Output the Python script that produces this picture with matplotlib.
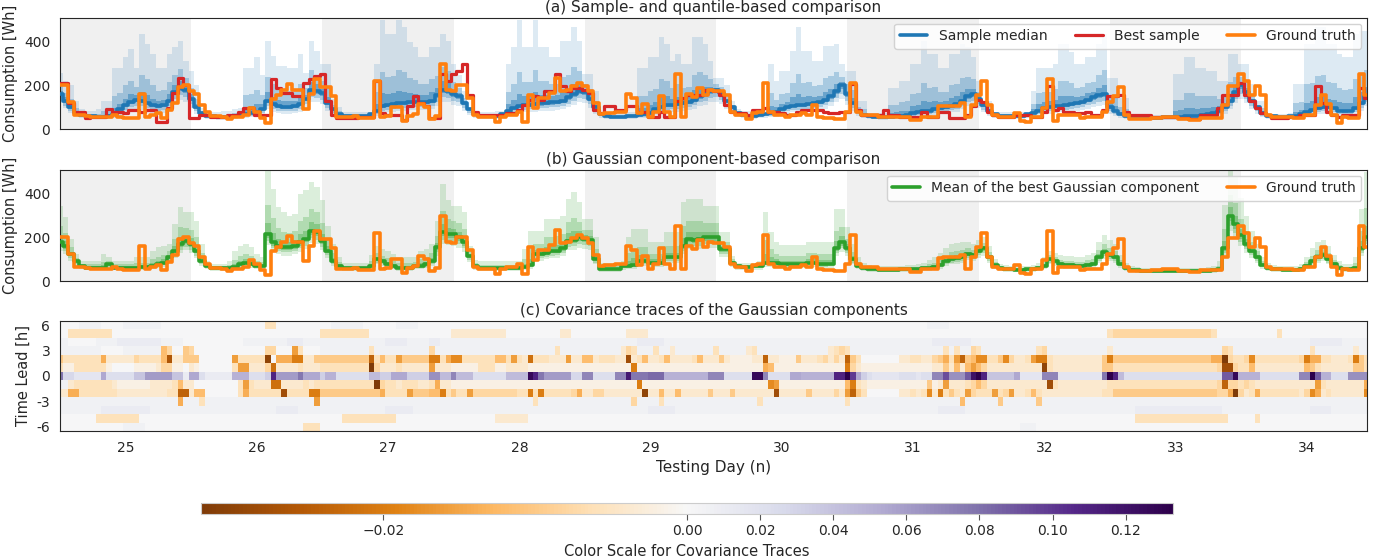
import numpy as np
import matplotlib
matplotlib.use("Agg")
import matplotlib.pyplot as plt
from matplotlib.colors import TwoSlopeNorm
import seaborn as sns

sns.set_style("white")
plt.rcParams["font.family"] = ["DejaVu Sans"]

# ---------------- data (hourly, 240 hours from day 24.5) ----------------
truth = [
    200,200,122,65,65,60,57,57,54,54,65,57,50,50,50,160,57,65,73,50,88,120,192,200,
    174,163,112,80,60,60,54,46,57,57,65,96,80,50,26,138,158,181,209,181,181,91,161,232,
    194,194,150,54,54,54,60,50,50,50,220,57,60,100,100,35,60,70,115,100,45,60,300,180,
    174,200,200,143,65,57,57,57,34,57,65,65,80,34,158,96,143,143,166,235,174,181,197,212,
    197,174,119,70,72,75,78,80,161,143,73,115,57,80,153,80,57,251,57,161,146,189,158,181,
    174,174,158,80,65,65,46,73,80,212,80,65,65,57,65,65,73,65,111,57,50,50,46,46,
    80,212,80,65,65,65,57,57,57,57,53,53,42,42,57,57,57,104,108,108,108,119,57,111,
    158,220,111,65,57,57,57,73,37,31,57,57,96,231,37,65,65,65,65,50,57,57,57,80,
    124,150,192,65,46,46,46,46,50,50,53,53,53,46,46,42,42,50,50,50,50,111,197,197,
    254,220,158,197,158,65,53,53,53,57,50,50,65,65,111,158,115,65,26,57,50,50,251,158]

best_sample = [
    212,212,119,80,80,50,57,57,57,91,80,80,73,88,88,80,88,88,34,34,96,166,236,200,
    50,50,65,65,57,57,57,65,65,80,96,96,65,65,65,228,189,166,166,150,150,212,228,243,
    251,127,65,50,50,50,50,57,57,57,220,73,65,65,65,42,104,150,119,104,50,50,251,220,
    251,266,300,158,80,65,65,65,65,65,73,73,88,111,135,150,135,174,174,251,197,174,189,189,
    181,166,88,73,104,104,88,88,104,104,80,80,57,57,80,57,57,127,143,158,158,158,181,181,
    174,158,111,80,73,73,65,88,88,96,80,80,73,65,65,80,88,88,88,88,80,73,73,80,
    80,205,88,65,65,65,65,88,65,65,57,57,57,57,80,57,57,80,80,50,50,50,65,104,
    135,124,80,65,57,57,57,65,65,65,57,57,80,197,88,96,80,80,73,73,80,65,65,88,
    150,150,158,80,65,65,65,65,57,57,57,57,57,50,50,46,46,65,65,65,96,158,158,158,
    212,158,127,96,73,65,50,50,50,57,57,65,65,65,197,119,80,65,57,65,65,65,189,143]

sample_median = [
    160,130,100,75,65,60,58,57,57,60,70,90,110,125,135,130,120,110,105,110,130,170,190,180,
    140,100,75,62,58,55,55,57,60,65,70,75,80,90,130,115,105,100,100,105,115,140,180,175,
    165,120,90,70,62,60,60,60,62,70,85,105,110,115,118,120,125,125,125,125,130,155,180,175,
    160,150,120,90,70,62,60,60,62,70,85,95,105,110,112,115,118,120,122,125,130,145,160,175,
    170,140,100,70,58,57,57,57,60,62,65,68,75,90,100,110,112,115,120,125,135,150,160,175,
    180,165,130,100,75,65,62,62,65,70,75,80,90,100,108,110,112,115,118,125,135,150,175,200,
    160,120,85,65,58,57,56,56,57,58,60,65,72,78,82,85,90,95,100,108,115,130,150,160,
    140,110,85,68,62,60,60,60,62,68,75,85,95,100,105,108,110,115,120,125,135,145,155,160,
    100,85,70,60,55,53,52,52,52,52,53,53,55,57,58,60,62,65,70,75,85,100,130,170,
    200,170,130,100,75,62,58,57,57,58,62,70,80,88,95,100,100,95,85,82,85,95,120,150]

# sample quantile bands (outer -> inner)
q_hi3 = [
    259,220,200,127,90,85,85,90,127,127,282,282,329,367,282,437,390,344,282,282,344,375,406,313,
    267,200,95,85,80,80,85,85,90,95,282,282,329,250,406,336,290,290,282,282,344,259,406,360,
    298,298,140,100,80,80,80,80,80,80,300,500,437,437,500,468,400,375,329,329,375,375,437,406,
    300,250,174,100,85,80,80,80,82,85,300,375,500,375,375,500,375,375,329,329,406,406,468,406,
    251,251,174,80,80,80,80,80,80,80,282,282,329,329,422,390,313,344,298,298,422,422,390,313,
    236,236,200,130,90,85,85,85,85,90,298,220,267,267,360,468,360,360,313,313,383,383,390,298,
    267,267,127,127,73,73,73,73,189,189,220,220,298,298,406,344,344,282,282,344,344,390,375,329,
    220,127,127,80,80,80,80,80,80,80,174,282,282,282,298,390,390,352,298,298,329,329,390,437,
    236,236,143,143,65,65,65,65,65,65,65,65,251,251,329,329,282,282,267,267,220,220,344,344,
    300,300,205,127,127,75,70,70,70,75,205,205,390,390,468,468,390,390,344,329,329,437,452,452]
q_hi2 = [
    200,165,140,95,75,70,68,70,85,87,150,165,200,220,195,250,230,200,175,180,215,250,275,235,
    190,140,83,71,66,64,66,68,72,77,155,160,180,155,240,205,180,175,173,175,205,188,270,250,
    220,190,110,82,70,68,68,68,70,75,170,260,240,245,270,260,235,225,205,205,228,245,285,268,
    215,190,142,94,76,69,68,68,70,76,170,205,260,215,217,270,220,222,205,207,240,250,283,268,
    205,185,130,74,67,66,66,66,68,70,150,152,175,185,230,220,190,205,190,195,250,260,250,230,
    205,195,160,112,81,73,71,71,73,78,165,135,160,167,210,255,212,215,197,200,235,243,260,240,
    205,180,102,90,64,63,62,62,110,110,125,127,162,165,210,190,192,170,172,202,207,235,240,228,
    172,117,102,73,69,68,68,68,69,73,115,165,170,172,182,220,222,210,190,195,212,218,250,270,
    155,145,100,93,59,58,57,57,57,57,58,58,135,135,165,167,150,152,150,152,140,148,215,240,
    240,222,160,110,95,67,63,62,62,65,120,125,205,210,245,247,215,212,190,180,182,232,252,270]
q_hi1 = [
    175,145,115,82,70,64,62,62,66,70,95,115,140,160,155,170,155,140,130,135,160,200,220,200,
    160,115,78,65,61,58,59,61,64,70,100,105,115,115,170,148,133,128,127,130,150,158,215,205,
    185,145,97,75,65,63,63,63,65,72,115,165,160,165,175,172,165,162,155,155,168,190,220,210,
    180,165,128,92,72,65,63,63,65,72,115,135,160,150,152,170,155,158,153,155,170,185,205,210,
    182,157,112,72,61,60,60,60,63,65,95,98,110,125,145,150,140,148,145,150,180,190,195,195,
    190,176,140,104,77,68,65,65,68,73,105,100,115,125,145,160,148,150,145,152,170,185,205,215,
    175,142,92,74,60,59,58,58,75,76,82,85,105,110,130,125,128,122,127,143,150,170,185,185,
    152,113,92,70,65,63,63,63,65,70,90,115,122,127,135,150,152,150,147,150,165,172,190,200,
    120,108,80,72,57,55,54,54,54,54,55,55,85,87,95,97,92,95,97,102,105,118,160,195,
    215,190,140,104,83,64,60,59,59,61,80,88,120,128,145,150,140,135,122,118,120,145,170,195]
q_lo1 = [
    150,120,92,70,61,56,54,53,53,55,64,82,100,113,122,118,109,100,95,100,118,155,173,164,
    127,91,69,57,54,51,51,53,55,60,64,69,73,82,118,105,96,91,91,96,105,127,164,160,
    150,109,82,64,57,55,55,55,57,64,78,96,100,105,108,110,114,114,114,114,118,141,164,160,
    146,137,109,82,64,57,55,55,57,64,78,87,96,100,102,105,108,110,111,114,118,132,146,160,
    155,127,91,64,53,53,53,53,55,57,60,62,69,82,91,100,102,105,110,114,123,137,146,160,
    164,150,118,91,69,60,57,57,60,64,69,73,82,91,99,100,102,105,108,114,123,137,160,182,
    146,109,78,60,53,53,52,52,53,54,55,60,66,72,75,78,82,87,91,99,105,118,137,146,
    127,100,78,62,57,55,55,55,57,62,69,78,87,91,96,99,100,105,110,114,123,132,141,146,
    91,78,64,55,51,49,48,48,48,48,49,49,51,53,54,55,57,60,64,69,78,91,118,155,
    182,155,118,91,69,57,54,53,53,54,57,64,73,80,87,91,91,87,78,75,78,87,110,137]
q_lo2 = [
    135,108,82,64,56,52,50,49,49,50,58,72,88,100,108,104,96,88,84,88,104,138,155,146,
    113,81,63,53,50,47,47,49,51,55,58,62,66,74,105,93,85,81,81,85,93,113,146,142,
    134,97,73,58,52,51,51,51,52,58,70,85,89,93,96,97,101,101,101,101,105,126,146,142,
    130,122,97,73,58,52,51,51,52,58,70,78,85,89,91,93,96,97,99,101,105,117,130,142,
    138,113,81,58,49,49,49,49,51,52,55,57,62,74,81,89,91,93,97,101,109,122,130,142,
    146,134,105,81,62,55,52,52,55,58,62,66,74,81,88,89,91,93,96,101,109,122,142,162,
    130,97,70,55,49,49,48,48,49,50,51,55,60,65,68,70,74,78,81,88,93,105,122,130,
    113,89,70,57,52,51,51,51,52,57,62,70,78,81,85,88,89,93,97,101,109,117,126,130,
    81,70,58,51,47,45,44,44,44,44,45,45,47,49,50,51,52,55,58,62,70,81,105,138,
    162,138,105,81,62,52,50,49,49,50,52,58,66,72,78,81,81,78,70,68,70,78,97,122]
q_lo3 = [
    120,95,72,58,51,47,45,44,44,45,50,62,75,85,92,88,82,75,72,75,88,118,132,125,
    97,70,56,48,45,43,43,44,46,50,50,54,57,64,90,80,73,70,70,73,80,97,125,122,
    115,84,63,51,47,46,46,46,47,51,60,73,77,80,82,84,87,87,87,87,90,108,125,122,
    112,105,84,63,51,47,46,46,47,51,60,67,73,77,78,80,82,84,85,87,90,100,112,122,
    118,97,70,51,44,44,44,44,46,47,49,50,54,64,70,77,78,80,84,87,94,105,112,122,
    125,115,90,70,54,49,47,47,49,51,54,57,64,70,76,77,78,80,82,87,94,105,122,140,
    112,84,60,49,44,44,43,43,44,45,46,49,52,56,59,60,64,67,70,76,80,90,105,112,
    97,77,60,50,47,46,46,46,47,50,54,60,67,70,73,76,77,80,84,87,94,100,108,112,
    70,60,51,46,43,41,40,40,40,40,41,41,43,44,45,46,47,49,51,54,60,70,90,118,
    140,118,90,70,54,47,45,44,44,45,47,51,57,62,67,70,70,67,60,59,60,67,84,105]

# Gaussian component: mean of the best component and its bands
gauss_mean = [
    180,160,123,92,69,62,62,62,62,77,62,62,62,62,62,65,65,68,77,85,108,139,170,185,
    170,139,92,69,62,58,58,58,65,77,85,80,69,69,216,177,162,154,154,162,177,192,231,223,
    185,139,92,69,58,58,58,58,58,69,100,92,77,69,62,58,62,69,69,77,92,154,223,216,
    215,200,177,115,69,60,60,60,60,60,60,60,60,65,75,123,123,130,138,140,150,185,190,200,
    195,190,100,55,54,54,57,69,70,75,92,92,85,85,85,108,108,108,162,192,190,192,200,200,
    200,146,146,85,69,65,65,69,69,85,85,85,77,77,77,77,77,85,85,77,77,80,150,177,
    150,100,70,58,55,53,52,52,52,52,53,53,55,55,58,60,65,75,90,100,105,110,125,120,
    140,150,110,75,60,55,53,52,52,53,55,60,70,100,90,80,75,75,70,70,75,80,110,135,
    120,110,80,60,52,50,48,48,47,47,47,47,47,47,47,47,48,48,48,50,55,150,300,260,
    210,170,140,110,75,60,55,53,52,52,52,55,70,90,110,120,100,80,60,55,55,60,150,200]
g_hi3 = [
    346,292,192,123,92,92,92,92,123,110,92,92,92,92,108,108,108,139,154,162,170,262,339,315,
    315,277,170,92,77,77,77,92,139,162,170,154,123,108,508,423,339,316,300,308,400,416,454,431,
    370,254,170,108,85,85,85,85,85,120,162,146,139,123,108,108,108,108,139,146,170,277,446,370,
    346,346,315,162,95,90,90,90,90,90,90,90,90,146,231,231,231,285,285,285,300,377,408,362,
    285,285,200,85,85,85,85,90,200,238,238,238,177,177,177,223,223,223,362,377,377,377,346,346,
    346,223,223,115,85,85,85,85,90,315,223,177,165,165,165,165,165,177,177,177,177,177,330,330,
    250,170,110,85,75,70,68,68,68,68,70,72,75,78,85,95,110,130,150,170,175,180,180,170,
    190,200,160,100,80,72,70,68,68,70,75,85,110,140,130,120,115,115,110,110,120,130,180,210,
    190,170,120,85,70,65,62,62,60,60,60,60,60,60,60,62,62,62,65,70,90,350,510,480,
    380,300,230,170,110,85,72,70,68,68,70,80,110,150,180,190,160,120,90,80,80,110,330,500]
g_hi2 = [
    255,220,154,106,79,76,76,76,89,92,76,76,76,76,83,84,84,100,112,120,136,194,246,244,
    235,200,127,79,69,67,67,73,98,115,123,113,93,87,347,288,242,227,220,228,277,293,331,317,
    268,190,127,87,70,70,70,70,70,92,128,116,105,93,83,81,83,87,101,108,127,209,323,285,
    274,266,239,136,81,74,74,74,74,74,74,74,74,101,145,172,172,200,204,205,218,271,288,273,
    236,233,145,69,68,68,70,78,129,148,158,158,126,126,126,160,160,160,252,275,274,275,266,266,
    266,181,181,99,76,74,74,76,78,189,148,126,117,117,117,117,117,130,130,122,122,124,231,246,
    195,132,88,70,64,61,59,59,59,59,61,62,64,65,70,76,85,100,117,132,137,142,150,143,
    163,173,133,86,69,63,61,59,59,61,64,71,88,118,108,98,93,93,88,88,95,103,142,169,
    152,137,98,71,60,57,54,54,53,53,53,53,53,53,53,54,54,54,56,59,71,240,395,359,
    287,229,181,137,91,71,63,61,59,59,60,66,88,117,142,152,127,98,74,66,66,83,231,335]
g_hi1 = [
    210,184,135,98,73,67,67,67,73,83,67,67,67,67,70,73,73,81,91,99,119,161,200,208,
    196,164,106,73,65,61,61,64,78,92,100,93,79,76,268,221,194,183,180,188,217,232,271,260,
    218,160,106,76,63,63,63,63,63,78,111,102,88,79,70,67,70,76,82,89,106,176,263,244,
    239,226,202,123,74,65,65,65,65,65,65,65,65,80,103,142,142,158,164,166,177,220,229,229,
    211,207,118,60,60,60,62,73,93,104,118,118,102,102,102,129,129,129,198,225,224,225,226,226,
    226,160,160,90,72,69,69,72,73,126,110,102,93,93,93,93,93,102,102,95,95,97,182,205,
    168,113,77,63,59,56,55,55,55,55,56,56,59,59,63,66,73,85,101,113,118,123,135,129,
    149,159,119,80,64,58,56,55,55,56,59,65,77,107,97,87,82,82,77,77,83,89,123,149,
    133,121,87,65,55,53,51,51,49,49,49,49,49,49,49,50,51,51,51,54,61,186,338,300,
    241,193,156,121,81,65,58,56,55,55,55,60,77,101,123,133,111,87,65,60,60,69,182,254]
g_lo1 = [
    168,148,113,85,64,58,58,58,58,71,58,58,58,58,58,60,60,63,71,78,99,127,156,170,
    156,128,85,64,57,53,53,53,60,71,78,74,64,64,199,163,149,142,142,149,163,177,213,205,
    170,128,85,64,53,53,53,53,53,64,92,85,71,64,57,53,57,64,64,71,85,142,205,199,
    198,184,163,106,63,55,55,55,55,55,55,55,55,60,69,113,113,120,127,129,138,170,175,184,
    179,175,92,51,50,50,52,63,64,69,85,85,78,78,78,99,99,99,149,177,175,177,184,184,
    184,134,134,78,63,60,60,63,63,78,78,78,71,71,71,71,71,78,78,71,71,74,138,163,
    138,92,64,53,51,49,48,48,48,48,49,49,51,51,53,55,60,69,83,92,97,101,115,110,
    129,138,101,69,55,51,49,48,48,49,51,55,64,92,83,74,69,69,64,64,69,74,101,124,
    110,101,74,55,48,46,44,44,43,43,43,43,43,43,43,43,44,44,44,46,51,138,276,239,
    193,156,129,101,69,55,51,49,48,48,48,51,64,83,101,110,92,74,55,51,51,55,138,184]
g_lo2 = [
    155,136,104,78,59,54,54,54,54,66,54,54,54,54,54,56,56,58,66,72,91,117,143,157,
    143,117,78,59,53,49,49,49,55,65,72,68,59,59,184,150,138,131,131,138,150,163,196,190,
    157,118,78,59,49,49,49,49,49,59,85,78,65,59,53,49,53,59,59,65,78,131,190,184,
    183,170,150,98,59,51,51,51,51,51,51,51,51,55,64,105,105,111,117,119,128,157,162,170,
    166,162,85,47,46,46,48,59,60,64,78,78,72,72,72,92,92,92,138,163,162,163,170,170,
    170,124,124,72,59,55,55,59,59,72,72,72,65,65,65,65,65,72,72,65,65,68,128,150,
    128,85,60,49,47,45,44,44,44,44,45,45,47,47,49,51,55,64,77,85,89,94,106,102,
    119,128,94,64,51,47,45,44,44,45,47,51,60,85,77,68,64,64,60,60,64,68,94,115,
    102,94,68,51,44,43,41,41,40,40,40,40,40,40,40,40,41,41,41,43,47,128,255,221,
    179,145,119,94,64,51,47,45,44,44,44,47,60,77,94,102,85,68,51,47,47,51,128,170]
g_lo3 = [
    140,122,93,70,53,49,49,49,49,60,49,49,49,49,49,51,51,54,60,66,83,105,130,143,
    128,104,69,53,47,44,44,44,49,58,64,60,53,53,165,134,123,117,117,123,134,146,176,170,
    141,106,70,53,44,44,44,44,44,53,76,70,59,53,47,44,47,53,53,59,70,117,170,164,
    163,152,135,87,52,46,46,46,46,46,46,46,46,49,57,93,93,99,105,106,114,141,144,152,
    148,144,76,42,41,41,43,52,53,57,70,70,65,65,65,82,82,82,123,146,144,146,152,152,
    152,111,111,65,52,49,49,52,52,65,65,65,59,59,59,59,59,65,65,59,59,61,114,135,
    114,76,53,44,42,40,40,40,40,40,40,40,42,42,44,46,49,57,68,76,80,84,95,91,
    106,114,84,57,46,42,40,40,40,40,42,46,53,76,68,61,57,57,53,53,57,61,84,103,
    91,84,61,46,40,38,36,36,36,36,36,36,36,36,36,36,36,36,36,38,42,114,228,198,
    160,130,106,84,57,46,42,40,40,40,40,42,53,68,84,91,76,61,46,42,42,46,114,152]

# Covariance traces, one string per time lead, one character per hour (10 blocks of 24 h).
# '.' = 0, 'a'..'p' = -0.002 .. -0.032 (steps of 0.002), 'A'..'Z' = 0.0055 .. 0.143 (steps of 0.0055)
time_leads = [6, 5, 4, 3, 2, 1, 0, -1, -2, -3, -4, -5, -6]
cov_rows = {
    6: ["....AAAA....AAAAAAA.....", "..............cc........", "..AAAAAA......AAAA......",
        "........................", "........................", "........................",
        "...............AAAA.....", "........................", "........................",
        "........................"],
    5: ["..cccccccc..............", "........................", "ccccccccc...............",
        "bbbbbbbbbb..........bb..", "........bbbb............", "........................",
        "........................", "........................", "cddddddddddddddddddc.....",
        ".......c................"],
    4: ["AA.....AAAABBBBBBBBAAAA.", "..........AAAAAAAABBBAAA", "AAAAAAAAAAAABBBBAAAABBAA",
        "AAAAAAAAAAAAAAAAAAAAAAAA", "AAAAAAAAAABBBBBAAAAAAAAA", "AAAAAAAAAAAAAAAAAAAAAAAA",
        "AAAAAAAAAAAAAAAABBBBBBBA", "AAAAAAAAAAAAAAAAAAAAAAAA", "AAAAAAAAAAAAAAAAAAAAAAAA",
        "AAAAAAAAAAAAABBBBBBAAAAA"],
    3: ["AAAAAAAA....AAAAAAAfd..e", "d.............dd...hc...", "AAAAAAAAAcAAAAAAAAAAdAAA",
        "AAAAAAAAAAAAAAAAAAAcAAAA", "AAAAAAAbdcAAAcAAbAAAAAAA", "cAAAAAbcAAAAAAAAAAAAAbcd",
        "cAAAAAAAAAAAAAAAAAcAcAAd", "cAAAAAAAAAAcdAAAAAAAAAAA", "bAAAAAAAAAAAAAAAAAAAAdcA",
        "AAAAAAAAAAAAAcAAAAAAAbAA"],
    2: ["ecccccccgbbbbbdccccfmbbe", "ee......hccccco.gggjjbbe", "eeeeeeeeelcfccheeeeejjcg",
        "iiccccccffchcbkcccbbbhbb", "ffbcccbbnbcfbbcfbbbbcfbb", "bebaaaabblbbaaaebbbcdbdb",
        "lec.......bbccbbdegchlef", "iicceidbbchjjcbbbbbbbbbe", "jeeeeeeeeeeeeeeeeeeggpdc",
        "cdiccccccccdjggccbbbcjec"],
    1: ["caacccccca....aaaabddaa.", "ba......chhbbbdkbbbbcbbb", "cccccccccpdbbbcbbbbbhbbb",
        "aaaaacccaabbbbaaaaaaaaaa", "aaaaaaaaajaaaaaaaaaaaaaa", "aaaaaaaaagfaaaaaaaaaaaaa",
        "jdbaaaaaaaaaaaaabbebfbfh", "fdbbbbbbbbbbocbbbbbbbbbe", "ecccccccccccccccccccdnnd",
        "ccfbbbbbbbbbfecbbbbbbeec"],
    0: ["NEECCCCCJDDDDDGGKKKKKGGB", "JJDBBBBBIIIDDDFTKKKKNJJJ", "FIIDDDDDDHHFFJJJFFFFLLHH",
        "MHHHDDDDDDHHHHWTNKKKKKEE", "MMDDDDMMUNNNOOOIIIIIIIIM", "MMDDDDDWWMDDDDJJIIIIIITT",
        "XRJFDCCCCCDDDCDDMMQLLLPV", "ZTGGGGGJCCCCMMMCCCCCCCCN", "ZTHDDDDDDDDDDDDDDDDDDPPW",
        "IIIIDDDDDDDMMXPIIDDDLLLL"],
    -1: ["AAbcccccccbaaaaaabbbbcfb", "b........chcbbbkkbbbbcbc", "ccccccccccpdccbcccbbcgbb",
         "aaaaaaaaaaaaaaaaaaaaaaaa", "aaaaaaaaaajaaaaaaaaaaaaa", "aaaaaaaaaaihaaaaaaaaaaaa",
         "fjcbaaaaaaaaaaaeabhbbbcd", "fdbbbbbbbbbbbncbbbbbbbbb", "ccccccccccccccccccccdldd",
         "cdcbbbbbbbbbbbhcbbbbbbbg"],
    -2: ["bbggcccccccbbbbbbbbbccll", "bff......cgccccccnccccjj", "eeeeeeeeeeegccccheeeffjc",
         "ecchddddddddccjcjcccccdg", "bbddbbbbbbbobbfbbfbbbbbe", "bbbebbbbbbbnbbbbbebbbbdb",
         "hlec......bbcbcibjcecbhd", "ccchcdhbbcfcbbbbbbbbbbbc", "ceeeeeeeeeeeeeeeeeeeddgp",
         "dbcgcccccccbdigbcbbbbbbi"],
    -3: ["AAAAAAAAAAAAAAAAAAAAAAgA", "AAcAAAAAAAAAAAAAAAAAAAAh", "AAAAAAAAAAAAAAAAAAAAAAAA",
         "AAAAAAAAAAAAAAAcAAAAAAAA", "AAAAAAAAAdAAAAcAAAAAAAAA", "AAAAAAAAcAAAAAAAAAAAAAAA",
         "cAAAAAAAAAAAAAAAAAAAAfAA", "AAAAeAAAAAAeAAAAAAAAAAAA", "AAAAAAAAAAAAAAAAAAAAAAAA",
         "AAAAAAAAAAAAAAAAAAAAAAAA"],
    -4: ["AAAAAAAABBBBBBBBBAAAAAAA", "AAAAAAAAAAAAAAAABBBBAAAA", "AAAAAAAAAAAABBBBBAAAAAAA",
         "AAAAAAAAAAAAAAAAAAAAAAAA", "AAAAAAAAAAAABBBBBAAAAAAA", "AAAAAAAAAAAAAAAAAAAAAAAA",
         "AAAAAAAAAAAAAAAAABBBBBAA", "AAAAAAAAAAAAAAAAAAAAAAAA", "AAAAABBBBBBBBBBBBBBBBAAA",
         "AAAAAAAAAAAAABBBBAAAAAAA"],
    -5: [".......cccccccc.........", "........................", "....cccccccccc..........",
         "........bbbbbb..........", "........................", "........................",
         "........................", "........................", ".....ccccccccccccccccc..",
         "...c...................."],
    -6: ["............AAAA........", ".....................ccc", "........................",
         "........................", "........................", "........................",
         "........................", "........AAA.............", "........................",
         "........................"],
}

day_ticks = [25, 26, 27, 28, 29, 30, 31, 32, 33, 34]
lead_ticks = [6, 3, 0, -3, -6]
cbar_ticks = [-0.02, 0.0, 0.02, 0.04, 0.06, 0.08, 0.10, 0.12]


def decode(ch):
    if ch == ".":
        return 0.0
    if "a" <= ch <= "z":
        return -(ord(ch) - 96) * 0.002
    return (ord(ch) - 64) * 0.0055


def day_block(s):
    # each block holds one day of 24 hourly readings
    return (s + s[-1] * 24)[:24]


n_hours = len(truth)
t = 24.5 + np.arange(n_hours) / 24.0
cov = np.array([[decode(c) for c in "".join(day_block(b) for b in cov_rows[L])]
                for L in sorted(time_leads)])

# ---------------- figure ----------------
fig = plt.figure(figsize=(13.79, 5.59), dpi=100)
left, width = 0.0435, 0.9478
ax1 = fig.add_axes([left, 0.7692, width, 0.1986])
ax2 = fig.add_axes([left, 0.4973, width, 0.1986])
ax3 = fig.add_axes([left, 0.2290, width, 0.1968])
cax = fig.add_axes([0.1458, 0.0805, 0.7049, 0.0197])

xlim = (t[0], t[-1])
blue, red, orange, green = "#1f77b4", "#d62728", "#ff7f0e", "#2ca02c"

for ax in (ax1, ax2):
    for d0 in (24.5, 26.5, 28.5, 30.5, 32.5):
        ax.axvspan(d0, d0 + 1, color="#f0f0f0", lw=0, zorder=0)

# (a)
ax1.fill_between(t, q_lo3, q_hi3, step="mid", color=blue, alpha=0.15, lw=0, zorder=1)
ax1.fill_between(t, q_lo2, q_hi2, step="mid", color=blue, alpha=0.28, lw=0, zorder=1)
ax1.fill_between(t, q_lo1, q_hi1, step="mid", color=blue, alpha=0.45, lw=0, zorder=1)
ax1.step(t, sample_median, where="mid", color=blue, lw=2.6, label="Sample median", zorder=3)
ax1.step(t, best_sample, where="mid", color=red, lw=2.3, label="Best sample", zorder=4)
ax1.step(t, truth, where="mid", color=orange, lw=2.6, label="Ground truth", zorder=5)
ax1.set_title("(a) Sample- and quantile-based comparison", fontsize=11, pad=4)
ax1.legend(loc="upper right", ncol=3, fontsize=10, framealpha=0.85,
           edgecolor="#cccccc", borderaxespad=0.4)

# (b)
ax2.fill_between(t, g_lo3, g_hi3, step="mid", color=green, alpha=0.17, lw=0, zorder=1)
ax2.fill_between(t, g_lo2, g_hi2, step="mid", color=green, alpha=0.24, lw=0, zorder=1)
ax2.fill_between(t, g_lo1, g_hi1, step="mid", color=green, alpha=0.32, lw=0, zorder=1)
ax2.step(t, gauss_mean, where="mid", color=green, lw=2.6,
         label="Mean of the best Gaussian component", zorder=3)
ax2.step(t, truth, where="mid", color=orange, lw=2.6, label="Ground truth", zorder=5)
ax2.set_title("(b) Gaussian component-based comparison", fontsize=11, pad=4)
ax2.legend(loc="upper right", ncol=2, fontsize=10, framealpha=0.85,
           edgecolor="#cccccc", borderaxespad=0.4)

for ax in (ax1, ax2):
    ax.set_xlim(*xlim)
    ax.set_ylim(0, 510)
    ax.set_yticks([0, 200, 400])
    ax.set_xticks([])
    ax.set_ylabel("Consumption [Wh]", fontsize=10.5)
    ax.tick_params(axis="y", labelsize=10)

# (c)
norm = TwoSlopeNorm(vmin=-0.032, vcenter=0.0, vmax=0.133)
x_edges = np.concatenate([t - 0.5 / 24.0, [t[-1] + 0.5 / 24.0]])
y_edges = np.arange(min(time_leads) - 0.5, max(time_leads) + 1.0, 1.0)
mesh = ax3.pcolormesh(x_edges, y_edges, cov, cmap="PuOr", norm=norm, shading="flat")
ax3.set_xlim(*xlim)
ax3.set_ylim(min(time_leads) - 0.5, max(time_leads) + 0.5)
ax3.set_yticks(lead_ticks)
ax3.set_yticklabels([str(v) for v in lead_ticks])
ax3.set_xticks(day_ticks)
ax3.tick_params(labelsize=10)
ax3.set_title("(c) Covariance traces of the Gaussian components", fontsize=11, pad=4)
ax3.set_ylabel("Time Lead [h]", fontsize=10.5)
ax3.set_xlabel("Testing Day (n)", fontsize=11)

cb = fig.colorbar(mesh, cax=cax, orientation="horizontal")
cb.set_ticks(cbar_ticks)
cb.set_label("Color Scale for Covariance Traces", fontsize=10.5)
cb.outline.set_edgecolor("#cccccc")
cax.tick_params(bottom=True, length=4, width=0.8, color="#555555", labelsize=10)

fig.savefig("out.png", dpi=100)
